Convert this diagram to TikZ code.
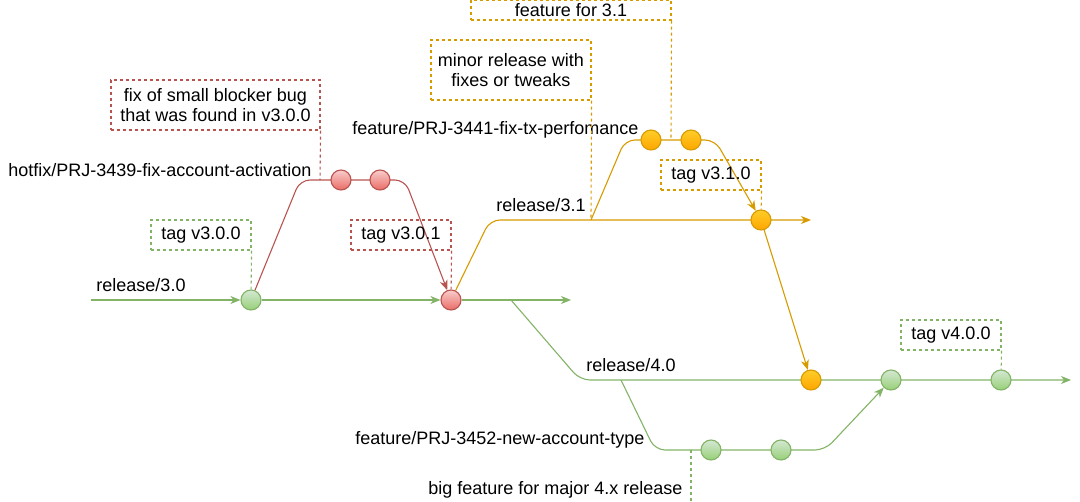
\documentclass[tikz,border=0pt]{standalone}
\usepackage{fontspec}
\setmainfont{Liberation Sans}
\usetikzlibrary{arrows.meta,backgrounds,positioning}

\definecolor{gitgreen}{HTML}{82B366}
\definecolor{gitgreentop}{HTML}{D5E8D4}
\definecolor{gitgreenbot}{HTML}{97D077}
\definecolor{gitred}{HTML}{B85450}
\definecolor{gitredtop}{HTML}{F8CECC}
\definecolor{gitredbot}{HTML}{EA6B66}
\definecolor{gitorange}{HTML}{D79B00}
\definecolor{gitorangetop}{HTML}{FFCD28}
\definecolor{gitorangebot}{HTML}{FFA500}

\begin{document}
\begin{tikzpicture}
        [x=1pt,y=-1pt,line width=1.1pt,
         font=\fontsize{18}{20}\selectfont,
         >={Stealth[length=10pt,width=8pt,inset=3pt]},
         commit/.style={circle, minimum size=20pt, inner sep=0pt},
         gcommit/.style={commit, draw=gitgreen, top color=gitgreentop, bottom color=gitgreenbot},
         rcommit/.style={commit, draw=gitred, top color=gitredtop, bottom color=gitredbot},
         ocommit/.style={commit, draw=gitorange, top color=gitorangetop, bottom color=gitorangebot},
         gline/.style={draw=gitgreen, line width=1.1pt},
         rline/.style={draw=gitred, line width=1.1pt},
         oline/.style={draw=gitorange, line width=1.1pt},
         note/.style={dash pattern=on 3pt off 3pt},
         notebox/.style={note, inner sep=0pt, minimum height=30pt, align=center, text=black},
         gnote/.style={notebox, draw=gitgreen},
         rnote/.style={notebox, draw=gitred},
         onote/.style={notebox, draw=gitorange},
         branchname/.style={inner sep=0pt}]
        \useasboundingbox (0,0) rectangle (1080,502);
        % commits
        \node[gcommit] (c300) at (251,300) {};
        \node[rcommit] (c301) at (451,300) {};
        \node[rcommit] (hf1) at (341,180) {};
        \node[rcommit] (hf2) at (380,180) {};
        \node[ocommit] (ft1) at (651,140) {};
        \node[ocommit] (ft2) at (691,140) {};
        \node[ocommit] (c310) at (761,220) {};
        \node[ocommit] (m310) at (811,380) {};
        \node[gcommit] (mnf) at (891,380) {};
        \node[gcommit] (c400) at (1001,380) {};
        \node[gcommit] (nf1) at (711,450) {};
        \node[gcommit] (nf2) at (781,450) {};
        % bend points
        \coordinate (r30start) at (91,300);
        \coordinate (r30end) at (571,300);
        \coordinate (r40fork) at (511,300);
        \coordinate (r40bend) at (580,380);
        \coordinate (r40end) at (1071,380);
        \coordinate (hfup) at (300,180);
        \coordinate (hfdown) at (405,180);
        \coordinate (hfnote) at (320,180);
        \coordinate (r31bend) at (490,220);
        \coordinate (r31end) at (811,220);
        \coordinate (ftfork) at (591,220);
        \coordinate (ftup) at (625,140);
        \coordinate (ftdown) at (715,140);
        \coordinate (ftnote) at (671,140);
        \coordinate (nffork) at (621,380);
        \coordinate (nfdown) at (655,450);
        \coordinate (nfup) at (825,450);
        \coordinate (nfnote) at (691,450);
        \coordinate (nfnoteend) at (691,502);
        % notes
        \node[gnote, minimum width=100pt] (tag300) at (201,235) {tag v3.0.0};
        \node[rnote, minimum width=100pt] (tag301) at (401,235) {tag v3.0.1};
        \node[rnote, minimum width=209pt, minimum height=50pt] (hfbox) at (215.5,105)
          {fix of small blocker bug\\that was found in v3.0.0};
        \node[onote, minimum width=160pt, minimum height=60pt] (minorbox) at (511,70)
          {minor release with\\fixes or tweaks};
        \node[onote, minimum width=200pt, minimum height=20pt] (ftbox) at (571,10) {feature for 3.1};
        \node[onote, minimum width=100pt] (tag310) at (711,175) {tag v3.1.0};
        \node[gnote, minimum width=100pt] (tag400) at (951,335) {tag v4.0.0};
        \node[branchname, anchor=east] (nfbox) at (683,490) {big feature for major 4.x release};
        % branch names
        \node[branchname] (r30name) at (141,285) {release/3.0};
        \node[branchname, anchor=east] (hfname) at (312,170) {hotfix/PRJ-3439-fix-account-activation};
        \node[branchname] (r31name) at (541,205) {release/3.1};
        \node[branchname, anchor=east] (ftname) at (639,130) {feature/PRJ-3441-fix-tx-perfomance};
        \node[branchname] (r40name) at (631,365) {release/4.0};
        \node[branchname, anchor=east] (nfname) at (645,440) {feature/PRJ-3452-new-account-type};
        % note pointers
        \draw[gline,note] (tag300.south east) -- (c300);
        \draw[rline,note] (tag301.south east) -- (c301);
        \draw[rline,note] (hfbox.south east) -- (hfnote);
        \draw[oline,note] (minorbox.south east) -- (ftfork);
        \draw[oline,note] (ftbox.south east) -- (ftnote);
        \draw[oline,note] (tag310.south east) -- (c310);
        \draw[gline,note] (tag400.south east) -- (c400);
        \draw[gline,note] (nfnote) -- (nfnoteend);
        \begin{scope}[on background layer]
          \draw[gline,->] (r30start) -- (c300);
          \draw[gline,->] (c300) -- (c301);
          \draw[gline,->] (c301) -- (r30end);
          \draw[gline,->,rounded corners=10pt] (r40fork) -- (r40bend) -- (r40end);
          \draw[rline,->,rounded corners=10pt] (c300) -- (hfup) -- (hfdown) -- (c301);
          \draw[oline,->,rounded corners=10pt] (c301) -- (r31bend) -- (r31end);
          \draw[oline,->,rounded corners=10pt] (ftfork) -- (ftup) -- (ftdown) -- (c310);
          \draw[oline,->] (c310) -- (m310);
          \draw[gline,->,rounded corners=10pt] (nffork) -- (nfdown) -- (nfup) -- (mnf);
        \end{scope}
\end{tikzpicture}
\end{document}
